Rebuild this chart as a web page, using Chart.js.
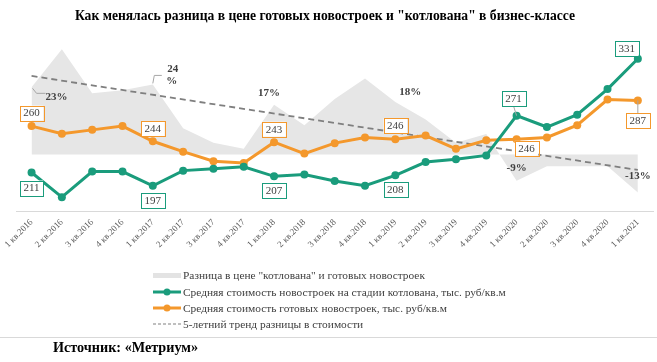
<!DOCTYPE html>
<html><head><meta charset="utf-8">
<script src="https://cdn.jsdelivr.net/npm/chart.js@4/dist/chart.umd.min.js"></script>
<style>
body{margin:0;background:#fff;}
#wrap{position:relative;width:657px;height:362px;overflow:hidden;font-family:"Liberation Serif","Times New Roman",serif;}
canvas{position:absolute;left:0;top:0;}
#title{position:absolute;left:0;width:650px;top:8px;text-align:center;font-weight:bold;font-size:13.6px;color:#000;white-space:nowrap;}
.lg{position:absolute;left:153px;font-size:11.4px;color:#404040;height:14px;line-height:14px;white-space:nowrap;}
.lg svg{vertical-align:middle;margin-right:2px;position:relative;top:-1px;}
#sep{position:absolute;left:0;top:337px;width:657px;height:1px;background:#d9d9d9;}
#src{position:absolute;left:53px;top:339px;font-weight:bold;font-size:14.2px;color:#000;}
</style></head>
<body>
<div id="wrap">
<canvas id="c" width="657" height="362"></canvas>
<div id="title">Как менялась разница в цене готовых новостроек и "котлована" в бизнес-классе</div>
<div class="lg" style="top:268px"><svg width="28" height="8"><rect x="0" y="2" width="28" height="5" fill="#e3e3e3"/></svg>Разница в цене "котлована" и готовых новостроек</div>
<div class="lg" style="top:285px"><svg width="28" height="8"><line x1="0" y1="4" x2="28" y2="4" stroke="#1a9c7c" stroke-width="3"/><circle cx="14" cy="4" r="3.5" fill="#1a9c7c"/></svg>Средняя стоимость новостроек на стадии котлована, тыс. руб/кв.м</div>
<div class="lg" style="top:301px"><svg width="28" height="8"><line x1="0" y1="4" x2="28" y2="4" stroke="#f4982c" stroke-width="3"/><circle cx="14" cy="4" r="3.5" fill="#f4982c"/></svg>Средняя стоимость готовых новостроек, тыс. руб/кв.м</div>
<div class="lg" style="top:317px"><svg width="28" height="8"><line x1="0" y1="4" x2="28" y2="4" stroke="#808080" stroke-width="1.2" stroke-dasharray="3,2"/></svg>5-летний тренд разницы в стоимости</div>
<div id="sep"></div>
<div id="src">Источник: «Метриум»</div>
</div>
<script>
const categories = ['1 кв.2016','2 кв.2016','3 кв.2016','4 кв.2016','1 кв.2017','2 кв.2017','3 кв.2017','4 кв.2017','1 кв.2018','2 кв.2018','3 кв.2018','4 кв.2018','1 кв.2019','2 кв.2019','3 кв.2019','4 кв.2019','1 кв.2020','2 кв.2020','3 кв.2020','4 кв.2020','1 кв.2021'];
const pitPrice   = [211,185,212,212,197,213,215,217,207,209,202,197,208,222,225,229,271,259,272,299,331];
const readyPrice = [260,252,256,260,244,233,223,221,243,231,242,248,246,250,236,245,246,248,261,288,287];
const gapPercent = [23,36,21,22,24,9,4,2,17,10,19,26,18,12,4,7,-9,-4,-4,-4,-13];
const trendStart = 26.9;
const trendEnd = -5.3;

const GREEN = '#1a9c7c', ORANGE = '#f4982c';

// label placement (box centre offsets from the point, px)
const pitLabels = [
  {i:0, dx:0, dy:15.5}, {i:4, dx:0, dy:14.5}, {i:8, dx:0, dy:14}, {i:12, dx:0, dy:14.5},
  {i:16, dx:-3, dy:-17, leader:true}, {i:20, dx:-11, dy:-10}
];
const readyLabels = [
  {i:0, dx:0, dy:-13}, {i:4, dx:0, dy:-12.5}, {i:8, dx:0, dy:-13}, {i:12, dx:0, dy:-13.5},
  {i:16, dx:10, dy:9}, {i:20, dx:0, dy:20, leader:true}
];
const pctLabels = [
  {i:0, dx:25, dy:10, leader:'a'}, {i:4, dx:20, dy:-15, split:true, leader:'b'}, {i:8, dx:-5, dy:-11.5},
  {i:12, dx:15, dy:-10}, {i:16, dx:0, dy:-13}, {i:20, dx:0, dy:-16.5}
];

const labelPlugin = {
  id:'boxLabels',
  afterDatasetsDraw(chart){
    const ctx = chart.ctx;
    const xs = chart.scales.x, yv = chart.scales.yv, yp = chart.scales.yp;
    ctx.save();
    ctx.textAlign = 'center';
    ctx.textBaseline = 'middle';
    function boxes(arr, specs, color){
      ctx.font = '11px "Liberation Serif", serif';
      specs.forEach(s=>{
        const px = xs.getPixelForValue(s.i), py = yv.getPixelForValue(arr[s.i]);
        const cx = px + s.dx, cy = py + s.dy;
        const txt = String(arr[s.i]);
        const w = ctx.measureText(txt).width + 7, h = 15;
        if (s.leader){
          ctx.strokeStyle = '#a6a6a6'; ctx.lineWidth = 1;
          ctx.beginPath();
          ctx.moveTo(px, py);
          ctx.lineTo(cx, s.dy < 0 ? cy + h/2 : cy - h/2);
          ctx.stroke();
        }
        ctx.fillStyle = '#fff';
        ctx.fillRect(cx - w/2, cy - h/2, w, h);
        ctx.strokeStyle = color; ctx.lineWidth = 1;
        ctx.strokeRect(Math.round(cx - w/2)+0.5, Math.round(cy - h/2)+0.5, Math.round(w), h);
        ctx.fillStyle = '#404040';
        ctx.fillText(txt, cx, cy + 0.5);
      });
    }
    boxes(pitPrice, pitLabels, GREEN);
    boxes(readyPrice, readyLabels, ORANGE);
    ctx.font = 'bold 11px "Liberation Serif", serif';
    pctLabels.forEach(s=>{
      const px = xs.getPixelForValue(s.i), py = yp.getPixelForValue(gapPercent[s.i]);
      const cx = px + s.dx, cy = py + s.dy;
      ctx.strokeStyle = '#a6a6a6'; ctx.lineWidth = 1;
      if (s.leader === 'a'){
        ctx.beginPath(); ctx.moveTo(px+1, py+1); ctx.lineTo(px+5, py+6); ctx.lineTo(cx-11, py+6); ctx.stroke();
      } else if (s.leader === 'b'){
        ctx.beginPath(); ctx.moveTo(px, py-1); ctx.lineTo(px+1.5, py-9); ctx.lineTo(px+9, py-9); ctx.stroke();
      }
      ctx.fillStyle = '#404040';
      const txt = gapPercent[s.i] + '%';
      if (s.split){
        ctx.fillText(String(gapPercent[s.i]), cx, cy);
        ctx.fillText('%', cx - 1, cy + 12);
      } else {
        ctx.fillText(txt, cx, cy);
      }
    });
    ctx.restore();
  }
};

new Chart(document.getElementById('c'), {
  type:'line',
  data:{
    labels:categories,
    datasets:[
      {label:'Разница в цене "котлована" и готовых новостроек', data:gapPercent, yAxisID:'yp',
       fill:'origin', backgroundColor:'#e6e6e6', borderWidth:0, borderColor:'rgba(0,0,0,0)', pointRadius:0, tension:0, order:4},
      {label:'5-летний тренд разницы в стоимости', data:[{x:categories[0], y:trendStart},{x:categories[categories.length-1], y:trendEnd}],
       yAxisID:'yp', borderColor:'#7f7f7f', borderDash:[6,4], borderWidth:1.8, pointRadius:0, fill:false, order:3},
      {label:'Средняя стоимость готовых новостроек, тыс. руб/кв.м', data:readyPrice, yAxisID:'yv',
       borderColor:ORANGE, backgroundColor:ORANGE, pointBackgroundColor:ORANGE, borderWidth:3, pointRadius:4, pointBorderWidth:0, fill:false, tension:0, order:2},
      {label:'Средняя стоимость новостроек на стадии котлована, тыс. руб/кв.м', data:pitPrice, yAxisID:'yv',
       borderColor:GREEN, backgroundColor:GREEN, pointBackgroundColor:GREEN, borderWidth:3, pointRadius:4, pointBorderWidth:0, fill:false, tension:0, order:1}
    ]
  },
  options:{
    responsive:false, animation:false, events:[],
    layout:{padding:{left:15, right:0, top:35, bottom:106}},
    plugins:{legend:{display:false}, tooltip:{enabled:false}, title:{display:false}},
    scales:{
      x:{offset:true, grid:{display:false, drawTicks:false}, border:{display:true, color:'#d9d9d9', width:1},
         ticks:{minRotation:45, maxRotation:45, autoSkip:false, padding:6, color:'#595959',
                font:{family:'"Liberation Serif", serif', size:9}},
         afterFit(s){ s.height = 45; }},
      yv:{display:false, min:170.4, max:356.1},
      yp:{display:false, min:-19.35, max:40.92}
    }
  },
  plugins:[labelPlugin]
});
</script>
</body></html>
